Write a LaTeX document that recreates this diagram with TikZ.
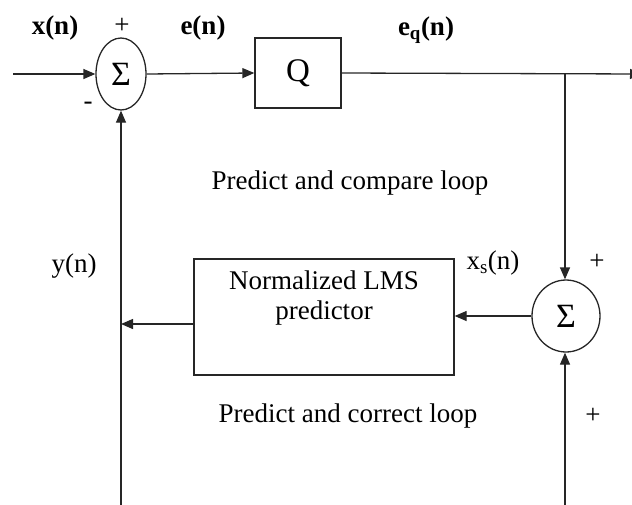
\documentclass[tikz,border=0pt]{standalone}
\usepackage{fontspec}
\setmainfont{Liberation Serif}
\usetikzlibrary{arrows.meta,shapes.geometric}
\begin{document}
\begin{tikzpicture}[x=1pt,y=-1pt,
  line/.style={line width=1.3pt, draw=black!85},
  arr/.style={line, -{Triangle[length=12pt,width=10pt]}},
  txt/.style={font=\fontsize{27}{30}\selectfont, inner sep=0pt},
  btxt/.style={font=\fontsize{27}{30}\selectfont\bfseries, inner sep=0pt},
  sumnode/.style={ellipse, draw=black!85, line width=1.3pt, inner sep=0pt, font=\fontsize{34}{34}\selectfont},
  boxnode/.style={draw=black!85, line width=1.3pt, inner sep=0pt}]
\useasboundingbox (0,0) rectangle (632,504);
% blocks
\node[sumnode, minimum width=50pt, minimum height=72pt] (s1) at (121,74) {Σ};
\node[boxnode, minimum width=86pt, minimum height=70pt, font=\fontsize{33}{33}\selectfont] (q) at (298,73) {Q};
\node[sumnode, minimum width=68pt, minimum height=72pt] (s2) at (566,316) {Σ};
\node[boxnode, minimum width=260pt, minimum height=116pt] (nl) at (324,317) {};
\node[txt, align=center] (nlt) at (324,298) {Normalized LMS\\predictor};
% coordinates
\coordinate (in) at (13,74);
\coordinate (br) at (565,74);
\coordinate (out) at (642,74);
\coordinate (bot1) at (121,520);
\coordinate (bot2) at (565,520);
\coordinate (j) at (121,324);
% connectors
\draw[arr] (in) -- (s1.west);
\draw[arr] (s1.east) -- (q.west);
\draw[arr] (q.east) -- (out);
\draw[arr] (br) -- (br |- s2.north);
\draw[arr] (bot2) -- (bot2 |- s2.south);
\draw[arr] (s2.west) -- (nl.east |- s2.west);
\draw[arr] (bot1) -- (s1.south);
\draw[arr] (nl.west |- j) -- (j);
% labels
\node[btxt] (lx) at (55,28) {x(n)};
\node[txt] (lp1) at (122,26) {+};
\node[btxt] (le) at (203,28) {e(n)};
\node[btxt] (leq) at (426,30) {e\textsubscript{q}(n)};
\node[txt] (lm) at (88,106) {-};
\node[txt] (l1) at (350,183) {Predict and compare loop};
\node[txt] (ly) at (74,266) {y(n)};
\node[txt] (lxs) at (493,263) {x\textsubscript{s}(n)};
\node[txt] (lp2) at (597,262) {+};
\node[txt] (l2) at (348,416) {Predict and correct loop};
\node[txt] (lp3) at (593,416) {+};
\end{tikzpicture}
\end{document}
